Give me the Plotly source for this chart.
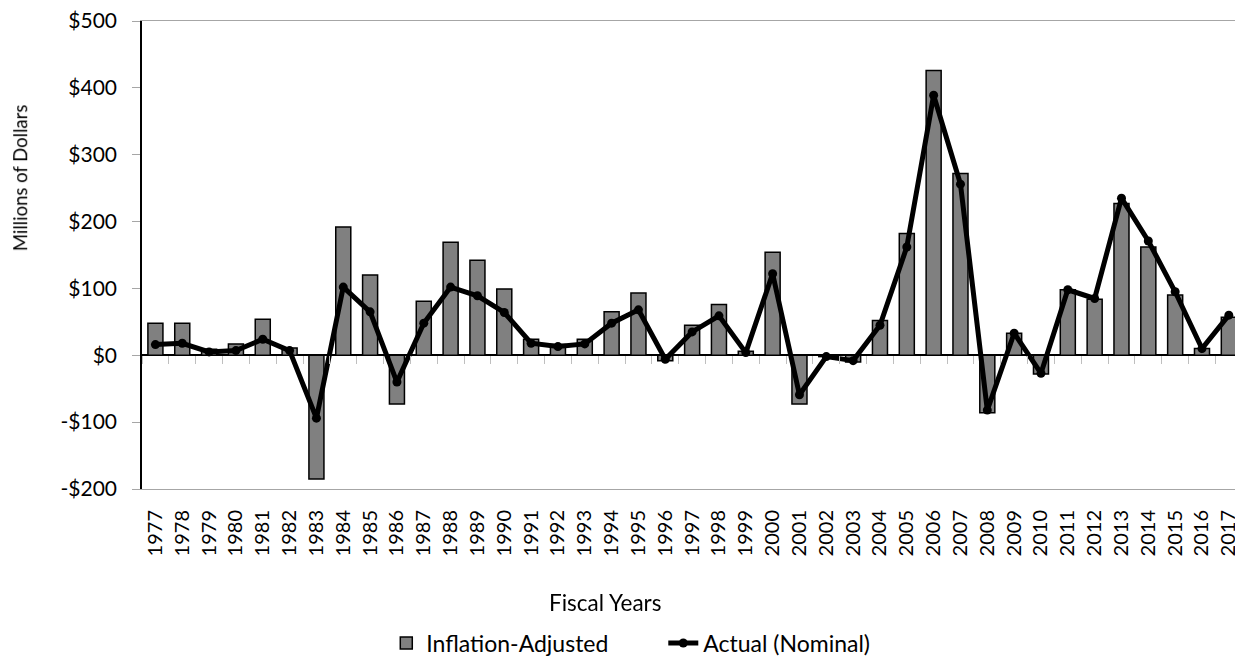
import plotly.graph_objects as go

years = [str(y) for y in range(1977, 2018)]
inflation_adjusted = [48, 48, 9, 17, 54, 11, -185, 192, 120, -73, 81, 169, 142, 99,
                      24, 16, 24, 65, 93, -8, 45, 76, 6, 154, -73, -2, -10, 52,
                      182, 426, 272, -86, 33, -28, 98, 84, 227, 162, 90, 10, 57]
actual_nominal = [16, 18, 5, 7, 24, 7, -94, 102, 65, -40, 48, 102, 89, 64,
                  18, 13, 17, 48, 68, -6, 35, 59, 4, 122, -59, -2, -8, 45,
                  162, 389, 256, -82, 33, -27, 98, 85, 235, 171, 95, 10, 60]
y_tick_vals = [-200, -100, 0, 100, 200, 300, 400, 500]
y_tick_text = ["-$200", "-$100", "$0", "$100", "$200", "$300", "$400", "$500"]

FONT = "Lato"

fig = go.Figure()
fig.add_trace(go.Bar(
    x=years, y=inflation_adjusted, name="Inflation-Adjusted",
    marker=dict(color="#808080", line=dict(color="#000000", width=1.5)),
))
fig.add_trace(go.Scatter(
    x=years, y=actual_nominal, name="Actual (Nominal)", mode="lines+markers",
    line=dict(color="#000000", width=5), marker=dict(color="#000000", size=9),
))
# invisible trace to carry the tick-mark axis that crosses at $0
fig.add_trace(go.Scatter(
    x=years, y=actual_nominal, xaxis="x2", mode="markers", opacity=0,
    showlegend=False, hoverinfo="skip",
))

xr = [-0.5, 40.23]
fig.update_layout(
    width=1235, height=656,
    margin=dict(l=142, r=0, t=21, b=167, autoexpand=False),
    paper_bgcolor="white", plot_bgcolor="white",
    font=dict(family=FONT, color="#000000"),
    bargap=0.44,
    showlegend=True,
    legend=dict(orientation="h", x=0.2235, xanchor="left",
                yref="container", y=(656 - 643) / 656, yanchor="middle",
                font=dict(size=23, family=FONT), entrywidth=232, entrywidthmode="pixels",
                traceorder="normal"),
    xaxis=dict(type="category", categoryarray=years, range=xr, automargin=False,
               showline=True, linecolor="#a6a6a6", linewidth=1, mirror=True,
               ticks="", tickangle=-90, tickfont=dict(size=20, family=FONT),
               ticklabelstandoff=12, showgrid=False, zeroline=False),
    xaxis2=dict(type="category", categoryarray=years, range=xr, overlaying="x",
                anchor="free", position=200 / 700, side="bottom", automargin=False,
                ticks="outside", tickson="boundaries", ticklen=8, tickcolor="#bfbfbf",
                tickwidth=1, showticklabels=False, showline=False, showgrid=False,
                zeroline=False),
    yaxis=dict(range=[-200, 500], tickvals=y_tick_vals, ticktext=y_tick_text,
               automargin=False,
               showline=True, linecolor="#000000", linewidth=1.5,
               ticks="outside", ticklen=8, tickcolor="#a6a6a6",
               tickfont=dict(size=21, family=FONT), ticklabelstandoff=11,
               showgrid=False, zeroline=True, zerolinecolor="#000000", zerolinewidth=1.5),
    annotations=[
        dict(text="<b>Net Surplus/(Deficit), Actual vs. Inflation-Adjusted Dollars</b>",
             xref="paper", yref="paper", x=0.3416, y=1.041, xanchor="center",
             yanchor="bottom", showarrow=False, font=dict(size=21, family=FONT)),
        dict(text="Millions of Dollars", xref="paper", yref="paper", x=-0.111, y=0.6635,
             textangle=-90, showarrow=False, xanchor="center", yanchor="middle",
             font=dict(size=18.5, family=FONT)),
        dict(text="Fiscal Years", xref="paper", yref="paper", x=0.4239, y=-0.2415,
             showarrow=False, xanchor="center", yanchor="middle",
             font=dict(size=22.5, family=FONT)),
    ],
)

fig.write_html("out.html")
